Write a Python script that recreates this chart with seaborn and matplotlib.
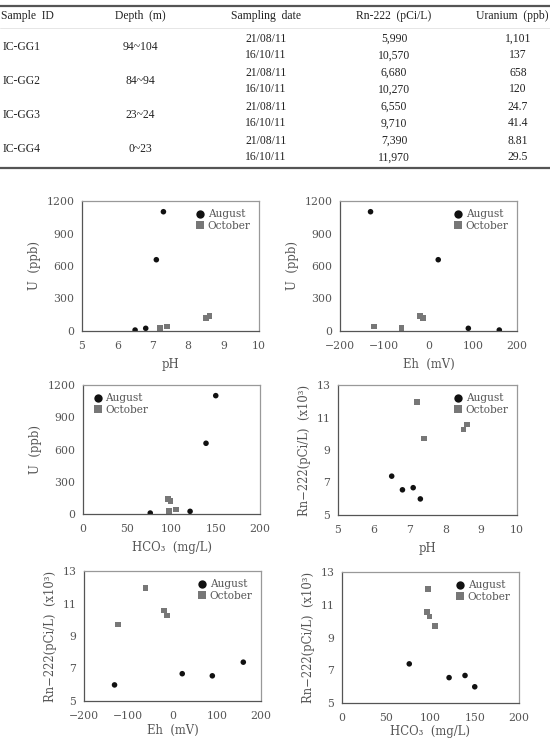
import matplotlib
matplotlib.use("Agg")
import matplotlib.pyplot as plt
from matplotlib.lines import Line2D
import seaborn as sns
import pandas as pd

# ---------------- data ----------------
sample_ids = ["IC-GG1", "IC-GG2", "IC-GG3", "IC-GG4"]
depths = ["94~104", "84~94", "23~24", "0~23"]
dates = ["21/08/11", "16/10/11"]
rn_table = ["5,990", "10,570", "6,680", "10,270", "6,550", "9,710", "7,390", "11,970"]
u_table = ["1,101", "137", "658", "120", "24.7", "41.4", "8.81", "29.5"]
table_headers = ["Sample  ID", "Depth  (m)", "Sampling  date", "Rn-222  (pCi/L)", "Uranium  (ppb)"]

seasons = ["August", "October"]
aug_ph = [7.3, 7.1, 6.8, 6.5]
oct_ph = [8.6, 8.5, 7.4, 7.2]
aug_eh = [-131, 22, 90, 160]
oct_eh = [-19, -12, -123, -61]
aug_hco3 = [150, 139, 121, 76]
oct_hco3 = [96, 99, 105, 97]
aug_u = [1101, 658, 24.7, 8.81]
oct_u = [137, 120, 41.4, 29.5]
aug_rn = [5.99, 6.68, 6.55, 7.39]
oct_rn = [10.57, 10.27, 9.71, 11.97]

df = pd.DataFrame({
    "season": [seasons[0]] * 4 + [seasons[1]] * 4,
    "pH": aug_ph + oct_ph,
    "Eh": aug_eh + oct_eh,
    "HCO3": aug_hco3 + oct_hco3,
    "U": aug_u + oct_u,
    "Rn": aug_rn + oct_rn,
})

# ---------------- style ----------------
sns.set_style("white")
plt.rcParams["font.family"] = ["DejaVu Serif", "DejaVu Sans"]
TXT = "#555555"
W, H = 550, 741
fig = plt.figure(figsize=(W / 100, H / 100), dpi=100)

def fx(px):
    return px / W

def fy(py):
    return 1 - py / H

# ---------------- table ----------------
tfont = ["Liberation Serif", "DejaVu Serif"]
tcol = "#222222"
fs_t = 8.4
fig.add_artist(Line2D([0, 1], [fy(5.5), fy(5.5)], color="#555555", lw=1.6))
fig.add_artist(Line2D([0, 1], [fy(27.5), fy(27.5)], color="#e2e2e2", lw=0.6))
fig.add_artist(Line2D([0, 1], [fy(168), fy(168)], color="#555555", lw=1.6))
col_x = [24, 140, 266, 394, 520]
header_pos = [(1, "left"), (140, "center"), (266, "center"), (394, "center"), (548, "right")]
for (x, ha), h in zip(header_pos, table_headers):
    fig.text(fx(x), fy(16.5), h, ha=ha, va="center", fontsize=fs_t,
             family=tfont, color=tcol)
row_y0, row_dy = 38.5, 17.0
for i, sid in enumerate(sample_ids):
    yc = row_y0 + row_dy * (2 * i + 0.5)
    fig.text(fx(3), fy(yc), sid, ha="left", va="center", fontsize=fs_t,
             family=tfont, color=tcol)
    fig.text(fx(col_x[1]), fy(yc), depths[i], ha="center", va="center",
             fontsize=fs_t, family=tfont, color=tcol)
    for j in range(2):
        k = 2 * i + j
        yr = row_y0 + row_dy * k
        fig.text(fx(col_x[2]), fy(yr), dates[j], ha="center", va="center",
                 fontsize=fs_t, family=tfont, color=tcol)
        fig.text(fx(col_x[3]), fy(yr), rn_table[k], ha="center", va="center",
                 fontsize=fs_t, family=tfont, color=tcol)
        fig.text(fx(518), fy(yr), u_table[k], ha="center", va="center",
                 fontsize=fs_t, family=tfont, color=tcol)

# ---------------- scatter panels ----------------
rn_label = "Rn\u2212222(pCi/L)  (x10\u00b3)"
panels = [
    ("pH", "U", (82, 259, 201, 331), (5, 10), [5, 6, 7, 8, 9, 10], (0, 1200),
     [0, 300, 600, 900, 1200], "pH", "U  (ppb)", "upper right", 5),
    ("Eh", "U", (340, 517, 201, 331), (-200, 200), [-200, -100, 0, 100, 200], (0, 1200),
     [0, 300, 600, 900, 1200], "Eh  (mV)", "U  (ppb)", "upper right", 5),
    ("HCO3", "U", (83, 260, 385, 514), (0, 200), [0, 50, 100, 150, 200], (0, 1200),
     [0, 300, 600, 900, 1200], "HCO\u2083  (mg/L)", "U  (ppb)", "upper left", 5),
    ("pH", "Rn", (338, 517, 385, 515), (5, 10), [5, 6, 7, 8, 9, 10], (5, 13),
     [5, 7, 9, 11, 13], "pH", rn_label, "upper right", 5),
    ("Eh", "Rn", (84, 261, 571, 701), (-200, 200), [-200, -100, 0, 100, 200], (5, 13),
     [5, 7, 9, 11, 13], "Eh  (mV)", rn_label, "upper right", 2),
    ("HCO3", "Rn", (342, 519, 572, 703), (0, 200), [0, 50, 100, 150, 200], (5, 13),
     [5, 7, 9, 11, 13], "HCO\u2083  (mg/L)", rn_label, "upper right", 1),
]

palette = {"August": "#111111", "October": "#777777"}
markers = {"August": "o", "October": "s"}

for xc, yc, (l, r, t, b), xlim, xt, ylim, yt, xl, yl, loc, lp in panels:
    ax = fig.add_axes([fx(l), fy(b), (r - l) / W, (b - t) / H])
    sns.scatterplot(data=df, x=xc, y=yc, hue="season", style="season",
                    palette=palette, markers=markers, s=16, linewidth=0,
                    ax=ax, legend=True)
    ax.set_xlim(*xlim)
    ax.set_ylim(*ylim)
    ax.set_xticks(xt)
    ax.set_yticks(yt)
    ax.set_xlabel(xl, fontsize=8.4, color=TXT, labelpad=lp)
    ax.set_ylabel(yl, fontsize=8.4, color=TXT, labelpad=4)
    ax.tick_params(axis="both", direction="inout", length=5, width=0.8,
                   colors="#666666", labelcolor=TXT, labelsize=7.8)
    ax.tick_params(axis="x", pad=5)
    ax.tick_params(axis="y", pad=3)
    for side, sp in ax.spines.items():
        sp.set_visible(True)
        sp.set_linewidth(0.9)
        sp.set_color("#555555" if side in ("left", "bottom") else "#999999")
    handles, labels = ax.get_legend_handles_labels()
    leg = ax.legend(handles, labels, loc=loc, frameon=False, fontsize=7.6,
                    markerscale=1.5, handletextpad=0.1, labelspacing=0.15,
                    borderaxespad=0.4, handlelength=1.2)
    for txt in leg.get_texts():
        txt.set_color(TXT)

fig.savefig("out.png", dpi=100)
